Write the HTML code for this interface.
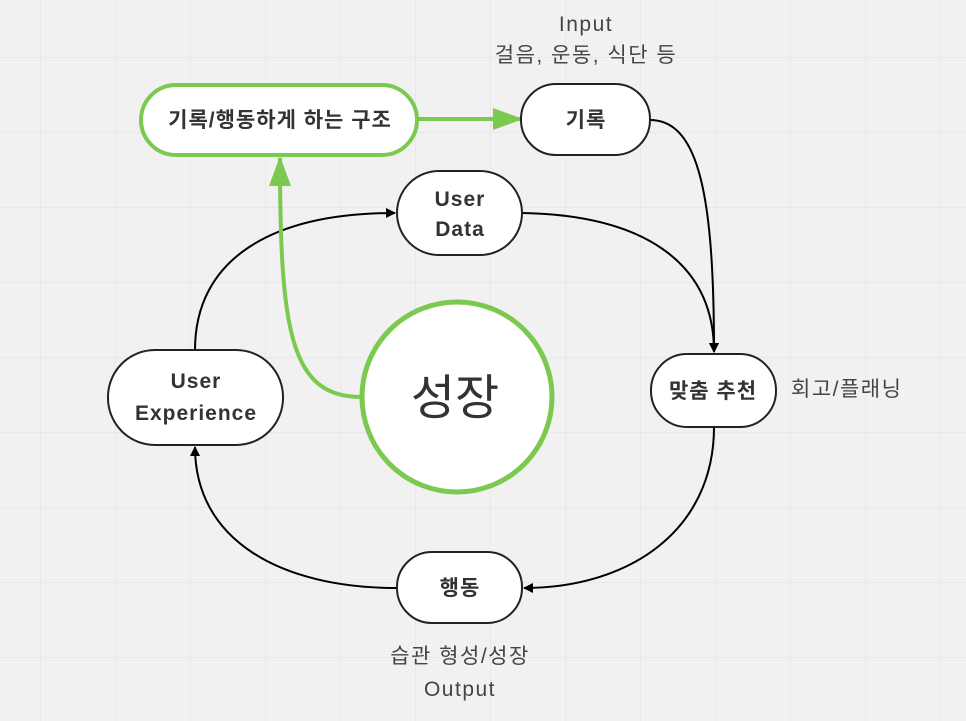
<!DOCTYPE html>
<html><head><meta charset="utf-8">
<style>
html,body{margin:0;padding:0;background:#f1f1f1;}
svg{display:block}
text{font-family:"Liberation Sans","Noto Sans CJK KR",sans-serif;fill:#333;}
.b{font-weight:bold;font-size:21px;letter-spacing:1px;}
.n{font-size:21px;fill:#444;letter-spacing:1.5px;}
</style></head><body>
<svg width="966" height="721" viewBox="0 0 966 721" xmlns="http://www.w3.org/2000/svg">
<defs>
<pattern id="g" width="75" height="75" patternUnits="userSpaceOnUse" x="40" y="57">
<path d="M0 0H75M0 0V75" stroke="#e5e5e5" stroke-width="1.5" fill="none"/>
</pattern>
<marker id="a" markerWidth="10" markerHeight="10" refX="9" refY="5" orient="auto" markerUnits="userSpaceOnUse">
<path d="M0 0L10 5L0 10z" fill="#000"/></marker>
<marker id="ga" markerWidth="30" markerHeight="22" refX="28" refY="11" orient="auto" markerUnits="userSpaceOnUse">
<path d="M0 0L30 11L0 22z" fill="#7cc94f"/></marker>
</defs>
<rect width="966" height="721" fill="url(#g)"/>
<g fill="none" stroke="#000" stroke-width="2">
<path d="M650 120C700 120 714 200 714 352" marker-end="url(#a)"/>
<path d="M522 213C640 215 714 260 714 352" marker-end="url(#a)"/>
<path d="M714 427C714 530 630 588 524 588" marker-end="url(#a)"/>
<path d="M397 588C280 588 195 540 195 447" marker-end="url(#a)"/>
<path d="M195 350C195 260 270 213 395 213" marker-end="url(#a)"/>
</g>
<g fill="none" stroke="#7cc94f" stroke-width="4">
<path d="M418 119H521" marker-end="url(#ga)"/>
<path d="M361 397C290 397 280 330 280 158" marker-end="url(#ga)"/>
</g>
<rect x="141" y="85" width="276" height="70" rx="35" fill="#fff" stroke="#7cc94f" stroke-width="4"/>
<text class="b" x="280" y="127" text-anchor="middle">기록/행동하게 하는 구조</text>
<rect x="521" y="84" width="129" height="71" rx="35" fill="#fff" stroke="#222" stroke-width="2"/>
<text class="b" x="586" y="127" text-anchor="middle">기록</text>
<rect x="397" y="171" width="125" height="84" rx="42" fill="#fff" stroke="#222" stroke-width="2"/>
<text class="b" x="460" y="206" text-anchor="middle">User</text>
<text class="b" x="460" y="236" text-anchor="middle">Data</text>
<rect x="108" y="350" width="175" height="95" rx="47" fill="#fff" stroke="#222" stroke-width="2"/>
<text class="b" x="196" y="388" text-anchor="middle">User</text>
<text class="b" x="196" y="420" text-anchor="middle">Experience</text>
<rect x="651" y="354" width="125" height="73" rx="36" fill="#fff" stroke="#222" stroke-width="2"/>
<text class="b" x="713" y="398" text-anchor="middle">맞춤 추천</text>
<rect x="397" y="552" width="125" height="71" rx="35" fill="#fff" stroke="#222" stroke-width="2"/>
<text class="b" x="460" y="595" text-anchor="middle">행동</text>
<circle cx="457" cy="397" r="95" fill="#fff" stroke="#7cc94f" stroke-width="5"/>
<text x="455" y="414" text-anchor="middle" style="font-size:48px;fill:#333">성장</text>
<text class="n" x="586" y="31" text-anchor="middle">Input</text>
<text class="n" x="586" y="62" text-anchor="middle">걸음, 운동, 식단 등</text>
<text class="n" x="791" y="396">회고/플래닝</text>
<text class="n" x="460" y="663" text-anchor="middle">습관 형성/성장</text>
<text class="n" x="460" y="696" text-anchor="middle">Output</text>
</svg>
</body></html>
